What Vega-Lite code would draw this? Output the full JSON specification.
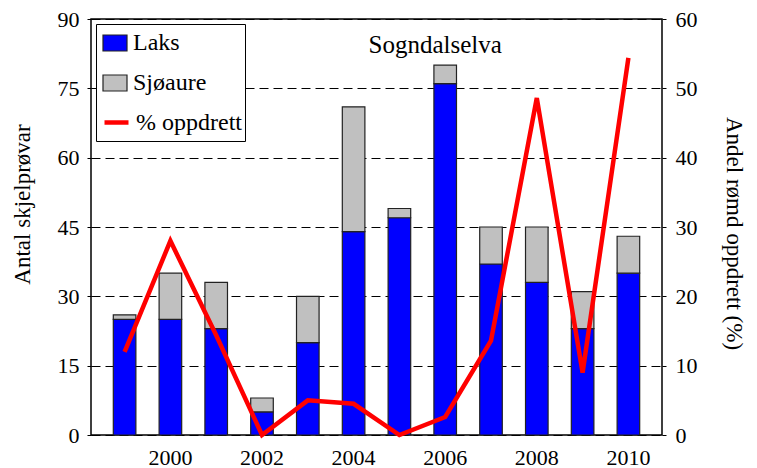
{
  "$schema": "https://vega.github.io/schema/vega-lite/v6.json",
  "width": 571,
  "height": 416,
  "autosize": {"type": "none"},
  "padding": {"left": 91, "top": 19, "right": 95, "bottom": 33},
  "background": "white",
  "config": {
    "font": "Liberation Serif",
    "view": {"stroke": "black", "strokeWidth": 1.5},
    "axis": {"labelFont": "Liberation Serif", "titleFont": "Liberation Serif", "labelColor": "black", "titleColor": "black", "domain": false, "tickColor": "black", "titleFontWeight": "normal"},
    "legend": {"labelFont": "Liberation Serif", "labelFontSize": 24, "labelColor": "black", "labelOffset": 5, "rowPadding": 15, "symbolSize": 576, "title": null}
  },
  "layer": [
    {
      "data": {
        "values": [
          {"year": "1999", "art": "Laks", "n": 25}, {"year": "1999", "art": "Sjøaure", "n": 1},
          {"year": "2000", "art": "Laks", "n": 25}, {"year": "2000", "art": "Sjøaure", "n": 10},
          {"year": "2001", "art": "Laks", "n": 23}, {"year": "2001", "art": "Sjøaure", "n": 10},
          {"year": "2002", "art": "Laks", "n": 5}, {"year": "2002", "art": "Sjøaure", "n": 3},
          {"year": "2003", "art": "Laks", "n": 20}, {"year": "2003", "art": "Sjøaure", "n": 10},
          {"year": "2004", "art": "Laks", "n": 44}, {"year": "2004", "art": "Sjøaure", "n": 27},
          {"year": "2005", "art": "Laks", "n": 47}, {"year": "2005", "art": "Sjøaure", "n": 2},
          {"year": "2006", "art": "Laks", "n": 76}, {"year": "2006", "art": "Sjøaure", "n": 4},
          {"year": "2007", "art": "Laks", "n": 37}, {"year": "2007", "art": "Sjøaure", "n": 8},
          {"year": "2008", "art": "Laks", "n": 33}, {"year": "2008", "art": "Sjøaure", "n": 12},
          {"year": "2009", "art": "Laks", "n": 23}, {"year": "2009", "art": "Sjøaure", "n": 8},
          {"year": "2010", "art": "Laks", "n": 35}, {"year": "2010", "art": "Sjøaure", "n": 8}
        ]
      },
      "mark": {"type": "bar", "stroke": "#222222", "strokeWidth": 1.2},
      "encoding": {
        "x": {
          "field": "year", "type": "ordinal",
          "scale": {"paddingInner": 0.507, "paddingOuter": 0.487},
          "axis": {"title": null, "values": ["2000", "2002", "2004", "2006", "2008", "2010"], "labelAngle": 0, "labelFontSize": 22, "ticks": false, "labelPadding": 12, "grid": false}
        },
        "y": {
          "field": "n", "type": "quantitative", "stack": "zero",
          "scale": {"domain": [0, 90], "nice": false},
          "axis": {
            "title": "Antal skjelprøvar", "titleFontSize": 23, "titleAngle": -90,
            "titleX": -69, "titleY": 185, "titleAlign": "center", "titleBaseline": "middle",
            "values": [0, 15, 30, 45, 60, 75, 90], "labelFontSize": 22, "tickSize": 4, "labelPadding": 8,
            "grid": true, "gridColor": "black", "gridDash": [9, 5], "gridWidth": 1, "gridOpacity": 1
          }
        },
        "order": {"field": "art", "sort": "ascending"},
        "fill": {
          "field": "art", "type": "nominal",
          "scale": {"domain": ["Laks", "Sjøaure", "% oppdrett"], "range": ["#0000ff", "#c0c0c0", "#ffffff"]},
          "legend": {
            "orient": "none", "legendX": 5, "legendY": 5, "zindex": 0,
            "fillColor": "white", "strokeColor": "black", "padding": 6,
            "symbolType": "M-1,-0.667H1V0.667H-1Z", "symbolStrokeColor": "#222222", "symbolStrokeWidth": 1.2,
            "labelColor": {"expr": "datum.label === '% oppdrett' ? 'transparent' : 'black'"}
          }
        }
      }
    },
    {
      "data": {
        "values": [
          {"year": "1999", "pct": 12}, {"year": "2000", "pct": 28}, {"year": "2001", "pct": 14.4},
          {"year": "2002", "pct": 0}, {"year": "2003", "pct": 5}, {"year": "2004", "pct": 4.5},
          {"year": "2005", "pct": 0}, {"year": "2006", "pct": 2.6}, {"year": "2007", "pct": 13.6},
          {"year": "2008", "pct": 48.6}, {"year": "2009", "pct": 9}, {"year": "2010", "pct": 54.4}
        ]
      },
      "mark": {"type": "line", "strokeWidth": 4.5, "strokeJoin": "miter"},
      "encoding": {
        "x": {"field": "year", "type": "ordinal"},
        "y": {
          "field": "pct", "type": "quantitative",
          "scale": {"domain": [0, 60], "nice": false},
          "axis": {
            "orient": "right", "title": "Andel rømd oppdrett (%)", "titleFontSize": 23, "titleAngle": 90,
            "titleX": 71, "titleY": 214, "titleAlign": "center", "titleBaseline": "middle",
            "values": [0, 10, 20, 30, 40, 50, 60], "labelFontSize": 22, "tickSize": 4, "labelPadding": 9, "grid": false
          }
        },
        "stroke": {
          "datum": "% oppdrett",
          "scale": {"domain": ["% oppdrett"], "range": ["#ff0000"]},
          "legend": {
            "orient": "none", "legendX": 11, "legendY": 89, "zindex": 1,
            "fillColor": "white", "padding": 0,
            "symbolType": "stroke", "symbolStrokeWidth": 4.5
          }
        }
      }
    },
    {
      "data": {"values": [{}]},
      "mark": {"type": "text", "text": "Sogndalselva", "font": "Liberation Serif", "fontSize": 25, "color": "black", "align": "center", "baseline": "alphabetic", "dx": -10, "dy": 34},
      "encoding": {
        "x": {"datum": "2006", "type": "ordinal"},
        "y": {"datum": 90, "type": "quantitative", "scale": {"domain": [0, 90], "nice": false}, "axis": null}
      }
    }
  ],
  "resolve": {"scale": {"y": "independent"}}
}
